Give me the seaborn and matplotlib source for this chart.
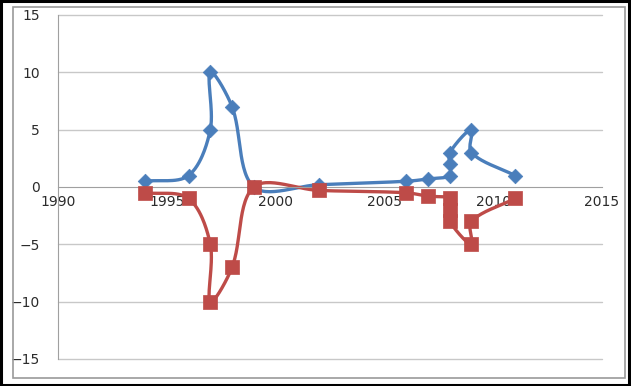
import numpy as np
import matplotlib
matplotlib.use('Agg')
import matplotlib.pyplot as plt
import seaborn as sns
from matplotlib.patches import Rectangle

# Data (two series, points in drawing order)
blue_x = [1994, 1996, 1997, 1997, 1998, 1999, 2002, 2006, 2007, 2008, 2008, 2008, 2009, 2009, 2011]
blue_y = [0.5, 1, 5, 10, 7, 0, 0.2, 0.5, 0.7, 1, 2, 3, 5, 3, 1]
red_x = [1994, 1996, 1997, 1997, 1998, 1999, 2002, 2006, 2007, 2008, 2008, 2008, 2009, 2009, 2011]
red_y = [-0.5, -1, -5, -10, -7, 0, -0.3, -0.5, -0.8, -1, -2, -3, -5, -3, -1]

x_ticks = [1990, 1995, 2000, 2005, 2010, 2015]
y_ticks = [-15, -10, -5, 0, 5, 10, 15]

BLUE = '#4A7EBB'
RED = '#BE4B48'

# pixel scale of the plot area, used so the smoothing works in screen space
SX, SY = 544 / 25, 344 / 30


def smooth(xs, ys, n=30):
    # Excel-like smoothed line: bezier segments, tangents weighted by chord length
    p = np.column_stack([np.array(xs) * SX, np.array(ys) * SY]).astype(float)
    p = np.vstack([p[0], p, p[-1]])
    out = []
    t = np.linspace(0, 1, n)[:, None]
    for i in range(1, len(p) - 2):
        p0, p1, p2, p3 = p[i - 1], p[i], p[i + 1], p[i + 2]
        d01 = np.linalg.norm(p1 - p0)
        d12 = np.linalg.norm(p2 - p1)
        d23 = np.linalg.norm(p3 - p2)
        c1 = p1 + (p2 - p0) * d12 / max(d01 + d12, 1e-9) / 3
        c2 = p2 - (p3 - p1) * d12 / max(d12 + d23, 1e-9) / 3
        seg = ((1 - t) ** 3 * p1 + 3 * (1 - t) ** 2 * t * c1
               + 3 * (1 - t) * t ** 2 * c2 + t ** 3 * p2)
        out.append(seg)
    out = np.vstack(out)
    return out[:, 0] / SX, out[:, 1] / SY


sns.set_style('white')
plt.rcParams['font.family'] = ['DejaVu Sans']

fig = plt.figure(figsize=(6.31, 3.86), dpi=100)
ax = fig.add_axes([58 / 631, 1 - 359 / 386, 544 / 631, 344 / 386])

for xs, ys, col in [(blue_x, blue_y, BLUE), (red_x, red_y, RED)]:
    sx, sy = smooth(xs, ys)
    ax.plot(sx, sy, color=col, lw=2.4, zorder=2, solid_capstyle='round')

sns.scatterplot(x=blue_x, y=blue_y, marker='D', s=55, color=BLUE,
                edgecolor=BLUE, linewidth=0.5, ax=ax, zorder=3)
sns.scatterplot(x=red_x, y=red_y, marker='s', s=100, color=RED,
                edgecolor=RED, linewidth=0.5, ax=ax, zorder=3)

ax.set_xlim(1990, 2015)
ax.set_ylim(-15, 15)
ax.set_xticks(x_ticks)
ax.set_yticks(y_ticks)
ax.set_axisbelow(True)
for yv in y_ticks:
    if yv != 0:
        ax.axhline(yv, color='#c8c8c8', lw=1, zorder=0, clip_on=False)

for s in ['top', 'right']:
    ax.spines[s].set_visible(False)
ax.spines['bottom'].set_position(('data', 0))
ax.spines['bottom'].set_color('#a0a0a0')
ax.spines['left'].set_color('#a0a0a0')
ax.tick_params(axis='x', direction='in', length=4, color='#a0a0a0',
               labelsize=10, labelcolor='#2b2b2b', pad=6)
ax.tick_params(axis='y', length=0, labelsize=10, labelcolor='#2b2b2b', pad=13)

# chart frames
fig.patches.append(Rectangle((13 / 631, 1 - 378 / 386), 612 / 631, 371 / 386,
                             transform=fig.transFigure, fill=False,
                             edgecolor='#9a9a9a', lw=1.2))
fig.patches.append(Rectangle((0.002, 0.003), 0.995, 0.994,
                             transform=fig.transFigure, fill=False,
                             edgecolor='black', lw=2.2))

fig.savefig('out.png', dpi=100)
